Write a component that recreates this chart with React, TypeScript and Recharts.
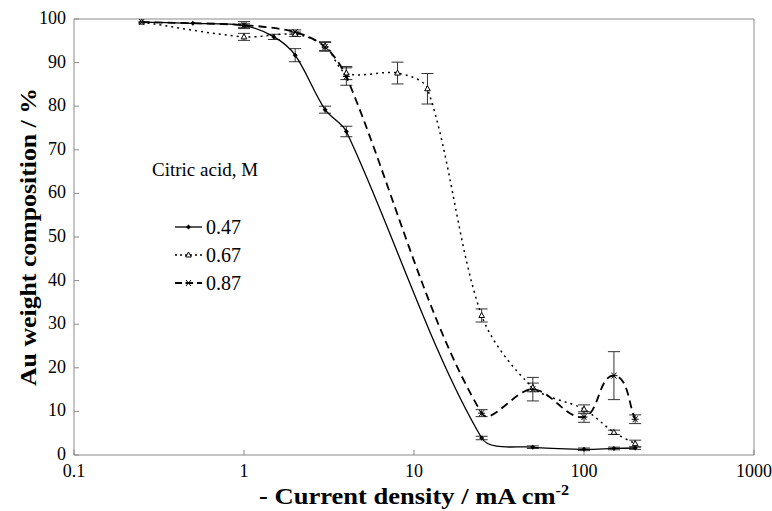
import React from 'react';
import { LineChart, Line, XAxis, YAxis, ErrorBar, ReferenceLine, Legend } from 'recharts';

// current density (mA cm-2), Au composition (%) and error (+/-) for each citric acid level
const x047 = [0.25, 0.5, 1, 1.5, 2, 3, 4, 25, 50, 100, 150, 200];
const y047 = [99.3, 99.0, 98.5, 95.9, 91.7, 79.2, 74.2, 3.9, 1.8, 1.3, 1.5, 1.6];
const e047 = [0, 0, 0.4, 0.6, 1.5, 0.8, 1.2, 0.4, 0.3, 0.3, 0.3, 0.3];

const x067 = [0.25, 1, 2, 3, 4, 8, 12, 25, 50, 100, 150, 200];
const y067 = [99.3, 95.9, 96.5, 93.8, 87.6, 87.6, 84.0, 32.0, 15.5, 10.5, 5.2, 2.6];
const e067 = [0, 0.8, 0.5, 1, 1.5, 2.5, 3.5, 1.5, 1, 1, 0.5, 0.8];

const x087 = [0.25, 1, 2, 3, 4, 25, 50, 100, 150, 200];
const y087 = [99.3, 98.6, 97.0, 93.6, 86.8, 9.6, 15.1, 8.7, 18.2, 8.2];
const e087 = [0, 0.8, 0.5, 1, 2, 0.8, 2.7, 1.2, 5.5, 1];

const xTicks = [0.1, 1, 10, 100, 1000];
const yTicks = [0, 10, 20, 30, 40, 50, 60, 70, 80, 90, 100];
const legendLabels = ['0.47', '0.67', '0.87'];

const toRows = (xs: number[], ys: number[], es: number[]) => xs.map((x, i) => ({ x, y: ys[i], e: es[i] }));
const d047 = toRows(x047, y047, e047);
const d067 = toRows(x067, y067, e067);
const d087 = toRows(x087, y087, e087);

const FONT = 'Liberation Serif, Times New Roman, serif';
const AXIS = '#8a8a8a';

// spreadsheet-like smoothing: tangent from neighbours, handle length from segment length
const SMOOTH = 0.3;
const smoothCurve = (context: any) => {
  let pts: number[][] = [];
  return {
    areaStart() {},
    areaEnd() {},
    lineStart() { pts = []; },
    point(x: number, y: number) { pts.push([+x, +y]); },
    lineEnd() {
      const n = pts.length;
      if (!n) return;
      context.moveTo(pts[0][0], pts[0][1]);
      if (n === 1) return;
      const dirs = pts.map((_, i) => {
        const a = pts[Math.max(0, i - 1)];
        const b = pts[Math.min(n - 1, i + 1)];
        const dx = b[0] - a[0], dy = b[1] - a[1];
        const l = Math.hypot(dx, dy) || 1;
        return [dx / l, dy / l];
      });
      for (let i = 0; i < n - 1; i++) {
        const p = pts[i], q = pts[i + 1];
        const L = Math.hypot(q[0] - p[0], q[1] - p[1]) * SMOOTH;
        context.bezierCurveTo(
          p[0] + dirs[i][0] * L, p[1] + dirs[i][1] * L,
          q[0] - dirs[i + 1][0] * L, q[1] - dirs[i + 1][1] * L,
          q[0], q[1]
        );
      }
    },
  };
};

const Diamond = ({ cx, cy }: any) => (
  <path d={`M${cx},${cy - 2.5}L${cx + 2.5},${cy}L${cx},${cy + 2.5}L${cx - 2.5},${cy}Z`} fill="#000" />
);
const Tri = ({ cx, cy }: any) => (
  <path d={`M${cx},${cy - 3}L${cx + 2.8},${cy + 2}L${cx - 2.8},${cy + 2}Z`} fill="#fff" stroke="#000" strokeWidth={1} />
);
const Star = ({ cx, cy }: any) => (
  <g stroke="#000" strokeWidth={1}>
    <line x1={cx - 3.5} y1={cy} x2={cx + 3.5} y2={cy} />
    <line x1={cx - 2.5} y1={cy - 3} x2={cx + 2.5} y2={cy + 3} />
    <line x1={cx + 2.5} y1={cy - 3} x2={cx - 2.5} y2={cy + 3} />
  </g>
);

const dotFor = (k: number) => (p: any) => {
  const key = `${k}-${p.index}`;
  if (k === 0) return <Diamond key={key} {...p} />;
  if (k === 1) return <Tri key={key} {...p} />;
  return <Star key={key} {...p} />;
};

const legendDash = ['', '2 3', '7 4'];

const renderLegend = () => (
  <svg width={170} height={145} style={{ overflow: 'visible' }}>
    <text x={12} y={21} style={{ fontFamily: FONT, fontSize: 19 }} fill="#000">Citric acid, M</text>
    {legendLabels.map((lab, i) => {
      const cy = 72 + i * 28;
      return (
        <g key={lab}>
          <line x1={35} y1={cy} x2={62} y2={cy} stroke="#000" strokeWidth={i === 2 ? 1.8 : 1.3} strokeDasharray={legendDash[i] || undefined} />
          {dotFor(i)({ cx: 48.5, cy, index: 0 })}
          <text x={66} y={cy + 6.5} style={{ fontFamily: FONT, fontSize: 20 }} fill="#000">{lab}</text>
        </g>
      );
    })}
  </svg>
);

const XTick = (props: any) => {
  const { x, y, payload } = props;
  return (
    <text x={x} y={y + 13} textAnchor="middle" style={{ fontFamily: FONT, fontSize: 18 }} fill="#000">
      {String(payload.value)}
    </text>
  );
};

const YTick = (props: any) => {
  const { x, y, payload } = props;
  return (
    <text x={x} y={y + 5} textAnchor="end" style={{ fontFamily: FONT, fontSize: 18 }} fill="#000">
      {String(payload.value)}
    </text>
  );
};

const YLabel = (props: any) => {
  const vb = props.viewBox || {};
  const cx = 28;
  const cy = vb.y + vb.height / 2;
  return (
    <text x={cx} y={cy} transform={`rotate(-90, ${cx}, ${cy})`} textAnchor="middle" dominantBaseline="central"
      textLength={298} lengthAdjust="spacingAndGlyphs"
      style={{ fontFamily: FONT, fontSize: 24, fontWeight: 'bold' }} fill="#000">
      Au weight composition / %
    </text>
  );
};

const XLabel = (props: any) => {
  const vb = props.viewBox || {};
  const cx = vb.x + vb.width / 2;
  return (
    <text x={cx} y={504} textAnchor="middle" textLength={310} lengthAdjust="spacingAndGlyphs"
      style={{ fontFamily: FONT, fontSize: 23, fontWeight: 'bold' }} fill="#000">
      - Current density / mA cm<tspan dy={-9} style={{ fontSize: 14 }}>-2</tspan>
    </text>
  );
};

export default function App() {
  return (
    <div style={{ position: 'absolute', left: 0, top: 0, width: 772, height: 511, background: '#fff', fontFamily: FONT }}>
      <LineChart width={772} height={511} margin={{ top: 19, right: 18, bottom: 26, left: 14 }}>
        <XAxis
          dataKey="x"
          type="number"
          scale="log"
          domain={[0.1, 1000]}
          ticks={xTicks}
          allowDataOverflow
          stroke={AXIS}
          height={30}
          tickSize={-5}
          tickMargin={14}
          tick={<XTick />}
          label={{ content: XLabel }}
        />
        <YAxis
          type="number"
          domain={[0, 100]}
          ticks={yTicks}
          width={60}
          stroke={AXIS}
          tickSize={-5}
          tickMargin={13}
          tick={<YTick />}
          label={{ content: YLabel }}
        />
        <ReferenceLine y={100} stroke={AXIS} strokeWidth={1} />
        <ReferenceLine x={1000} stroke={AXIS} strokeWidth={1} />
        <Legend
          layout="vertical"
          align="center"
          verticalAlign="middle"
          content={renderLegend}
          wrapperStyle={{ position: 'absolute', left: 140, top: 155, width: 170, height: 145 }}
        />
        <Line data={d047} dataKey="y" type={smoothCurve as any} stroke="#000" strokeWidth={1.3} dot={dotFor(0)} activeDot={false} isAnimationActive={false}>
          <ErrorBar dataKey="e" direction="y" width={6} stroke="#333" strokeWidth={1} />
        </Line>
        <Line data={d067} dataKey="y" type={smoothCurve as any} stroke="#000" strokeWidth={1.5} strokeDasharray="2 4" dot={dotFor(1)} activeDot={false} isAnimationActive={false}>
          <ErrorBar dataKey="e" direction="y" width={6} stroke="#333" strokeWidth={1} />
        </Line>
        <Line data={d087} dataKey="y" type={smoothCurve as any} stroke="#000" strokeWidth={1.8} strokeDasharray="8 5" dot={dotFor(2)} activeDot={false} isAnimationActive={false}>
          <ErrorBar dataKey="e" direction="y" width={6} stroke="#333" strokeWidth={1} />
        </Line>
      </LineChart>
    </div>
  );
}
